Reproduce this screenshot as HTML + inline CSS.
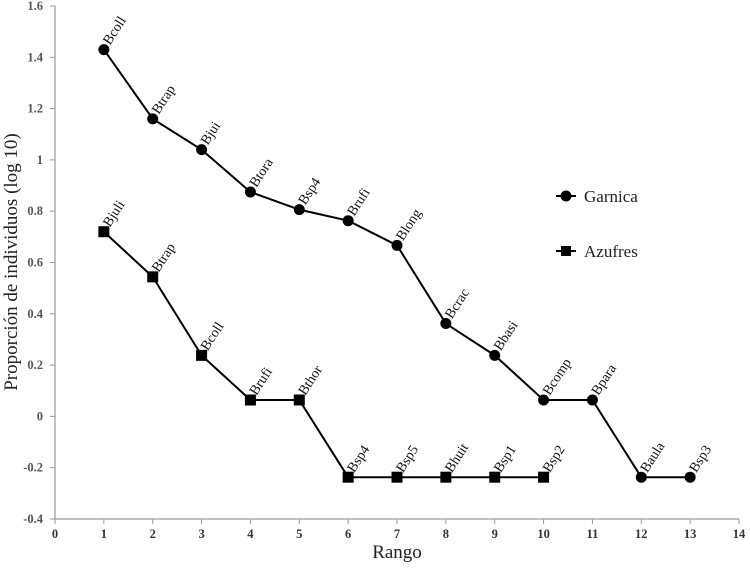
<!DOCTYPE html>
<html><head><meta charset="utf-8"><style>
html,body{margin:0;padding:0;background:#fff;}
svg text{font-family:"Liberation Serif",serif;}
</style></head><body>
<svg id="chart" width="750" height="567" viewBox="0 0 750 567" xmlns="http://www.w3.org/2000/svg">
<g id="axes"></g>
<g id="series"></g>
<text x="397" y="558" font-size="19" text-anchor="middle" fill="#222">Rango</text>
<text transform="translate(17,262) rotate(-90)" font-size="19" text-anchor="middle" fill="#222">Proporción de individuos (log 10)</text>
<g>
  <line x1="556" y1="196" x2="576" y2="196" stroke="#000" stroke-width="2"/>
  <circle cx="566" cy="196" r="5.5" fill="#000"/>
  <text x="584" y="202" font-size="17" fill="#222">Garnica</text>
  <line x1="556" y1="251" x2="576" y2="251" stroke="#000" stroke-width="2"/>
  <rect x="561" y="246" width="10" height="10" fill="#000"/>
  <text x="584" y="257" font-size="17" fill="#222">Azufres</text>
</g>
</svg>
<script>
const xTicks=[0,1,2,3,4,5,6,7,8,9,10,11,12,13,14];
const yTicks=[-0.4,-0.2,0,0.2,0.4,0.6,0.8,1,1.2,1.4,1.6];
const yTickLabels=["-0.4","-0.2","0","0.2","0.4","0.6","0.8","1","1.2","1.4","1.6"];
const garnicaRanks=[1,2,3,4,5,6,7,8,9,10,11,12,13];
const garnicaValues=[1.43,1.16,1.04,0.875,0.806,0.763,0.667,0.362,0.238,0.064,0.064,-0.237,-0.237];
const garnicaLabels=["Bcoll","Btrap","Bjui","Btora","Bsp4","Brufi","Blong","Bcrac","Bbasi","Bcomp","Bpara","Baula","Bsp3"];
const azufresRanks=[1,2,3,4,5,6,7,8,9,10];
const azufresValues=[0.72,0.544,0.238,0.064,0.064,-0.237,-0.237,-0.237,-0.237,-0.237];
const azufresLabels=["Bjuli","Btrap","Bcoll","Brufi","Bthor","Bsp4","Bsp5","Bhuit","Bsp1","Bsp2"];

const NS="http://www.w3.org/2000/svg";
const X0=55,X1=739,Y0=519,Y1=6;
function xs(v){return X0+(v-0)/(14-0)*(X1-X0);}
function ys(v){return Y0-(v+0.4)/(2.0)*(Y0-Y1);}
function mk(tag,attrs,parent){const e=document.createElementNS(NS,tag);for(const k in attrs)e.setAttribute(k,attrs[k]);parent.appendChild(e);return e;}
const axes=document.getElementById('axes');
const series=document.getElementById('series');
let yAxis=mk('line',{x1:X0,y1:Y1,x2:X0,y2:Y0,stroke:'#999','stroke-width':1.2},axes);


let xAxis=mk('line',{x1:X0,y1:Y0,x2:X1,y2:Y0,stroke:'#999','stroke-width':1.2},axes);


yTicks.forEach((v,i)=>{
  mk('line',{x1:X0-5,y1:ys(v),x2:X0,y2:ys(v),stroke:'#999'},axes);
  const t=mk('text',{x:X0-12,y:ys(v)+4,'font-size':12.5,'font-weight':'bold','text-anchor':'end',fill:'#555'},axes);
  t.textContent=yTickLabels[i];
  
  
});
xTicks.forEach(v=>{
  mk('line',{x1:xs(v),y1:Y0,x2:xs(v),y2:Y0+5,stroke:'#999'},axes);
  const t=mk('text',{x:xs(v),y:Y0+19,'font-size':12.5,'font-weight':'bold','text-anchor':'middle',fill:'#333'},axes);
  t.textContent=String(v);
  
  
});
function drawSeries(ranks,vals,labels,shape,name){
  const g=mk('g',{},series);
  
  
  const pts=ranks.map((r,i)=>xs(r)+','+ys(vals[i])).join(' ');
  const pl=mk('polyline',{points:pts,fill:'none',stroke:'#000','stroke-width':2},g);
  
  
  ranks.forEach((r,i)=>{
    const x=xs(r),y=ys(vals[i]);
    let m;
    if(shape==='circle') m=mk('circle',{cx:x,cy:y,r:5.5,fill:'#000'},g);
    else m=mk('rect',{x:x-5.5,y:y-5.5,width:11,height:11,fill:'#000'},g);
    
    
    const t=mk('text',{transform:'translate('+(x+6)+','+(y-4)+') rotate(-57)','font-size':14,fill:'#111'},g);
    t.textContent=labels[i];
    
    
  });
}
drawSeries(garnicaRanks,garnicaValues,garnicaLabels,'circle','garnica');
drawSeries(azufresRanks,azufresValues,azufresLabels,'square','azufres');
</script>
</body></html>
